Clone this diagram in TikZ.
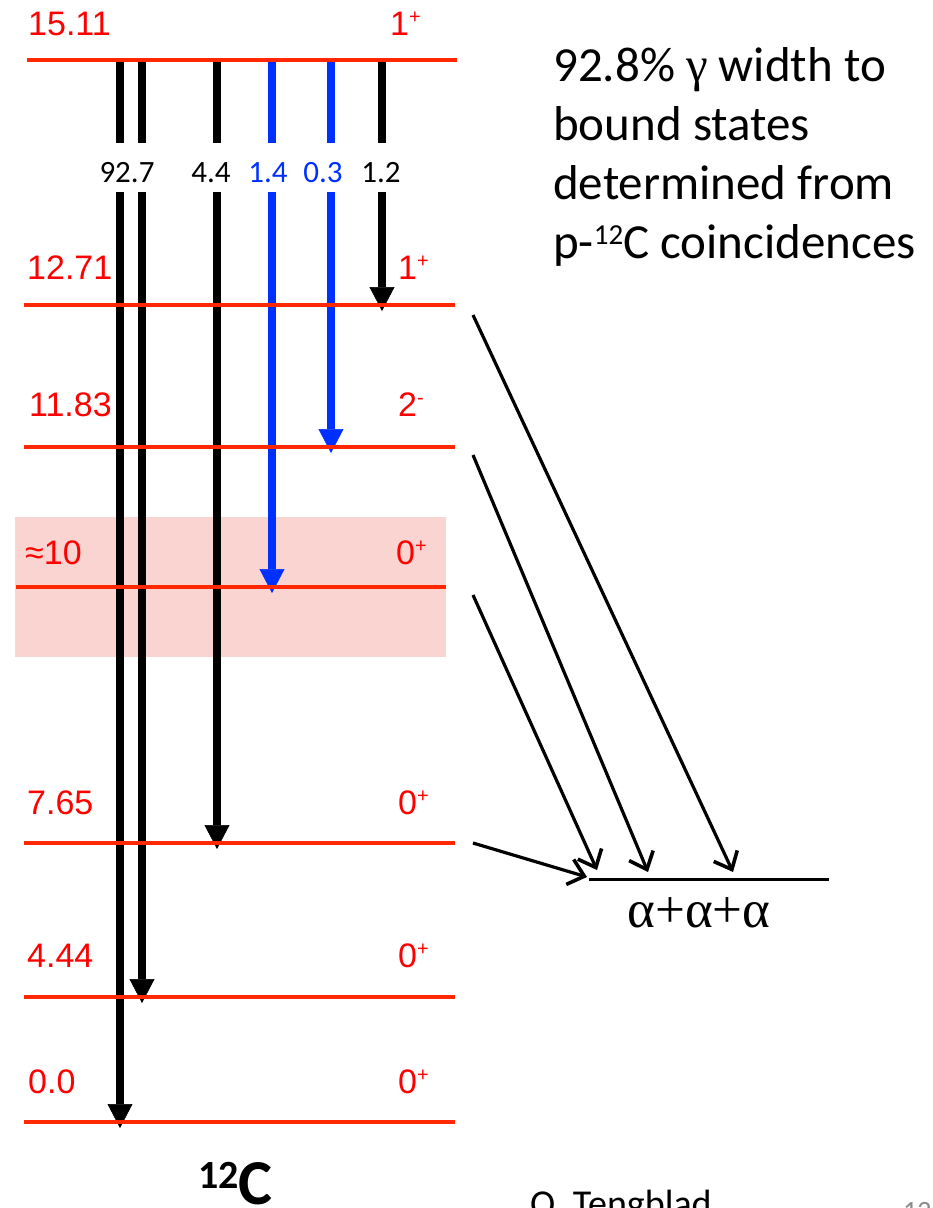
\documentclass[tikz,border=0pt]{standalone}
\usepackage{fontspec}
\setmainfont{Carlito}
\newfontfamily\arialfont{Liberation Sans}
\newfontfamily\timesfont{Liberation Serif}
\usepackage{tikz}
\usetikzlibrary{arrows.meta, calc}
\definecolor{levelred}{RGB}{255, 40, 0}
\definecolor{labelred}{RGB}{255, 0, 0}
\definecolor{gammablue}{RGB}{0, 48, 255}
\definecolor{bandpink}{RGB}{250, 212, 208}
\definecolor{slidegrey}{RGB}{140, 140, 140}
\newcommand{\spinpar}[2]{#1\raisebox{12pt}{\fontsize{20}{20}\selectfont #2}}
\newcommand{\massno}[3]{\raisebox{#2}{\fontsize{#1}{#1}\selectfont #3}}

\begin{document}
\begin{tikzpicture}[x=1pt, y=-1pt,
        level/.style={draw=levelred, line width=3.5pt},
        energy/.style={anchor=base west, inner sep=0pt, text=labelred, font=\arialfont\fontsize{34}{34}\selectfont},
        branch/.style={anchor=base, inner sep=0pt, font=\fontsize{31}{31}\selectfont},
        gstub/.style={line width=8pt},
        gline/.style={line width=8pt, -{Triangle[length=24pt, width=25pt, line width=0.5pt]}, shorten >=-6pt},
        decay/.style={line width=3.2pt, -{Straight Barb[length=15pt, width=26pt, line width=3.6pt]}}]

        \useasboundingbox (0,0) rectangle (933,1208);

        % Band
        \fill[bandpink] (15,517) rectangle (446,657);

        % Levels
        \coordinate (e1511) at (27,60);
        \coordinate (e1271) at (24,305);
        \coordinate (e1183) at (24,447);
        \coordinate (e10) at (16,587);
        \coordinate (e765) at (24,843);
        \coordinate (e444) at (24,997);
        \coordinate (e0) at (24,1122);

        % Gamma lanes
        \coordinate (top) at (0,62);
        \coordinate (gaptop) at (0,143);
        \coordinate (gapbot) at (0,192);
        \coordinate (ln1) at (120,0);
        \coordinate (ln2) at (142,0);
        \coordinate (ln3) at (217,0);
        \coordinate (ln4) at (272,0);
        \coordinate (ln5) at (331,0);
        \coordinate (ln6) at (382,0);

        \draw[gstub] (ln1 |- top) -- (ln1 |- gaptop);
        \draw[gstub] (ln2 |- top) -- (ln2 |- gaptop);
        \draw[gstub] (ln3 |- top) -- (ln3 |- gaptop);
        \draw[gstub, gammablue] (ln4 |- top) -- (ln4 |- gaptop);
        \draw[gstub, gammablue] (ln5 |- top) -- (ln5 |- gaptop);
        \draw[gstub] (ln6 |- top) -- (ln6 |- gaptop);

        \draw[gline] (ln1 |- gapbot) -- (ln1 |- e0);
        \draw[gline] (ln2 |- gapbot) -- (ln2 |- e444);
        \draw[gline] (ln3 |- gapbot) -- (ln3 |- e765);
        \draw[gline, gammablue] (ln4 |- gapbot) -- (ln4 |- e10);
        \draw[gline, gammablue] (ln5 |- gapbot) -- (ln5 |- e1183);
        \draw[gline] (ln6 |- gapbot) -- (ln6 |- e1271);

        \draw[level] (e1511) -- ++(430,0);
        \draw[level] (e1271) -- ++(431,0);
        \draw[level] (e1183) -- ++(431,0);
        \draw[level] (e10) -- ++(430,0);
        \draw[level] (e765) -- ++(431,0);
        \draw[level] (e444) -- ++(431,0);
        \draw[level] (e0) -- ++(431,0);

        % Labels
        \node[energy] (t1511) at (28,35) {15.11};
        \node[energy] (s1511) at (390,35) {\spinpar{1}{+}};
        \node[energy] (t1271) at (27,279) {12.71};
        \node[energy] (s1271) at (398,279) {\spinpar{1}{+}};
        \node[energy] (t1183) at (29,416) {11.83};
        \node[energy] (s1183) at (398,416) {\spinpar{2}{-}};
        \node[energy] (t10) at (25,564) {≈10};
        \node[energy] (s10) at (396,564) {\spinpar{0}{+}};
        \node[energy] (t765) at (27,814) {7.65};
        \node[energy] (s765) at (398,814) {\spinpar{0}{+}};
        \node[energy] (t444) at (27,967) {4.44};
        \node[energy] (s444) at (398,967) {\spinpar{0}{+}};
        \node[energy] (t0) at (28,1093) {0.0};
        \node[energy] (s0) at (398,1093) {\spinpar{0}{+}};

        \node[branch] (b927) at (127,182) {92.7};
        \node[branch] (b44) at (211,182) {4.4};
        \node[branch, text=gammablue] (b14) at (268,182) {1.4};
        \node[branch, text=gammablue] (b03) at (323,182) {0.3};
        \node[branch] (b12) at (381,182) {1.2};

        % Alpha channel
        \coordinate (chanL) at (589,879);
        \coordinate (chanR) at (829,879);
        \draw[line width=3pt] (chanL) -- (chanR);
        \node[anchor=base, inner sep=0pt, font=\timesfont\fontsize{53}{53}\selectfont] (aaa) at (699,927) {α+α+α};

        \coordinate (d1271) at (473,315);
        \coordinate (d1183) at (473,455);
        \coordinate (d10) at (473,595);
        \coordinate (d765) at (473,843);
        \coordinate (f1271) at (733,872);
        \coordinate (f1183) at (648,872);
        \coordinate (f10) at (597,870);
        \coordinate (f765) at (587,877);
        \draw[decay] (d1271) -- (f1271);
        \draw[decay] (d1183) -- (f1183);
        \draw[decay] (d10) -- (f10);
        \draw[decay] (d765) -- (f765);

        % Text
        \node[anchor=base west, inner sep=0pt, align=left, font=\fontsize{49}{59}\selectfont] (note) at (553,258)
            {92.8\% {\timesfont γ} width to\\bound states\\determined from\\p-\massno{29}{14pt}{12}C coincidences};
        \node[anchor=base west, inner sep=0pt, font=\bfseries\fontsize{64}{64}\selectfont] (nucl) at (198,1204) {\massno{40}{16pt}{12}C};
        \node[anchor=base west, inner sep=0pt, font=\fontsize{38}{38}\selectfont] (author) at (530,1216) {O. Tengblad};
        \node[anchor=base west, inner sep=0pt, text=slidegrey, font=\fontsize{28}{28}\selectfont] (slide) at (903,1220) {12};
    \end{tikzpicture}
\end{document}
